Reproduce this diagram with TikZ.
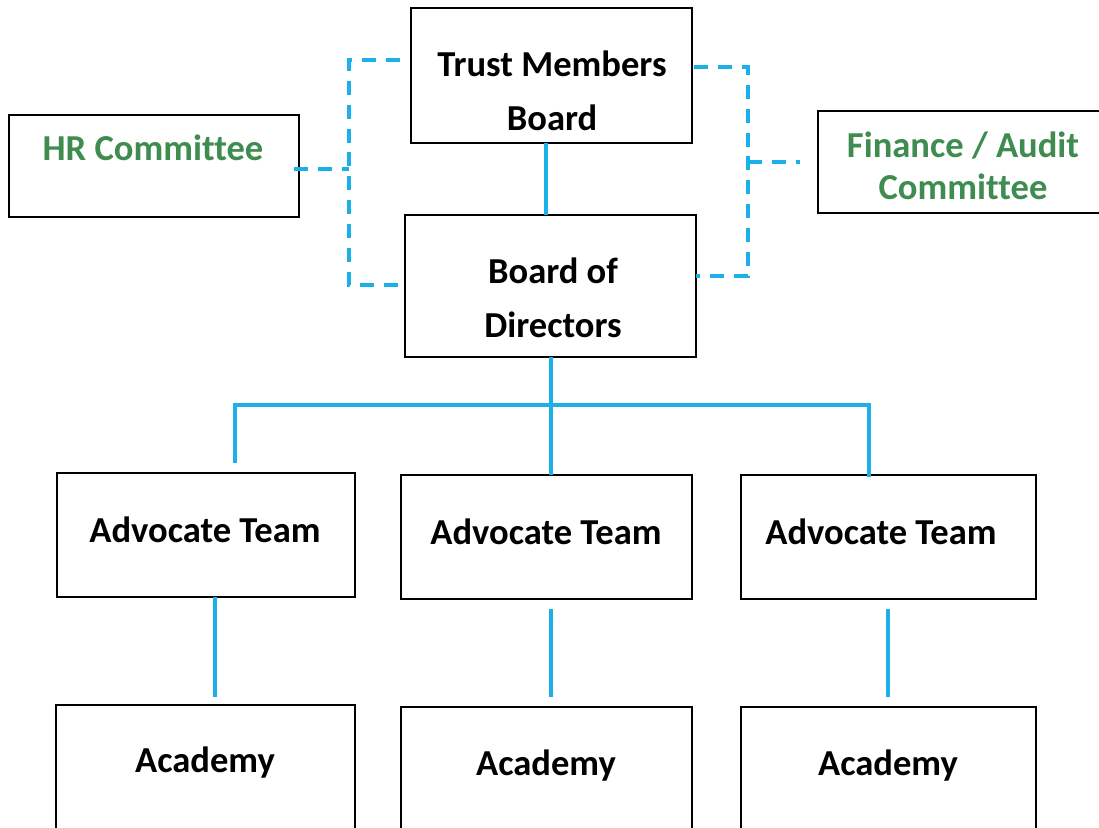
\documentclass[tikz,border=0pt]{standalone}
\usepackage{fontspec}
\setmainfont{Carlito}[Ligatures=NoCommon]
\usepackage{xcolor}
\usetikzlibrary{calc}

\definecolor{linkblue}{RGB}{27,176,232}
\definecolor{cmtgreen}{RGB}{62,140,80}

\tikzset{
  box/.style={draw=black, line width=1.7pt, rectangle, fill=white},
  lbl/.style={font=\fontsize{26}{38.4}\selectfont\bfseries, align=center, inner sep=0pt},
  glbl/.style={lbl, text=cmtgreen},
  link/.style={draw=linkblue, line width=2.6pt},
  dlink/.style={link, dash pattern=on 10pt off 7pt}
}

\begin{document}
\begin{tikzpicture}[x=0.025cm,y=-0.025cm]
    \clip (0,0) rectangle (1099,828);
    \fill[white] (0,0) rectangle (1099,828);
    % Boxes
    \draw[box] (411,8) rectangle (692,143);     % trust members board
    \draw[box] (9,115) rectangle (299,217);     % HR committee
    \draw[box] (818,111) rectangle (1110,213);  % finance / audit
    \draw[box] (405,215) rectangle (696,357);   % board of directors
    \draw[box] (57,473) rectangle (355,597);    % advocate teams
    \draw[box] (401,475) rectangle (692,599);
    \draw[box] (741,475) rectangle (1036,599);
    \draw[box] (56,705) rectangle (355,840);    % academies
    \draw[box] (401,707) rectangle (692,840);
    \draw[box] (741,707) rectangle (1036,840);
    % Labels
    \node[lbl]  (tmb) at (552,91)  {Trust Members\\Board};
    \node[glbl] (hrc) at (153,148) {HR Committee};
    \node[glbl, font=\fontsize{26}{29.9}\selectfont\bfseries] (fac) at (963,166) {Finance / Audit\\Committee};
    \node[lbl]  (bod) at (553,298) {Board of\\Directors};
    \node[lbl]  (adv1) at (205,530) {Advocate Team};
    \node[lbl]  (adv2) at (546,532) {Advocate Team};
    \node[lbl]  (adv3) at (881,532) {Advocate Team};
    \node[lbl]  (aca1) at (205,763) {Academy};
    \node[lbl]  (aca2) at (546,766) {Academy};
    \node[lbl]  (aca3) at (888,766) {Academy};
    % Solid links
    \draw[link] (546,143) -- (546,215);
    \draw[link] (551,357) -- (551,475);
    \draw[link] (235,463) -- (235,405) -- (869,405) -- (869,477);
    \draw[link] (215,597) -- (215,697);
    \draw[link] (551,609) -- (551,697);
    \draw[link] (888,609) -- (888,697);
    % Dashed links
    \draw[dlink] (400,60) -- (349,60) -- (349,285) -- (398,285);
    \draw[dlink] (294,169) -- (349,169);
    \draw[dlink] (694,67) -- (748,67) -- (748,276) -- (696,276);
    \draw[dlink] (748,162) -- (800,162);
\end{tikzpicture}
\end{document}
